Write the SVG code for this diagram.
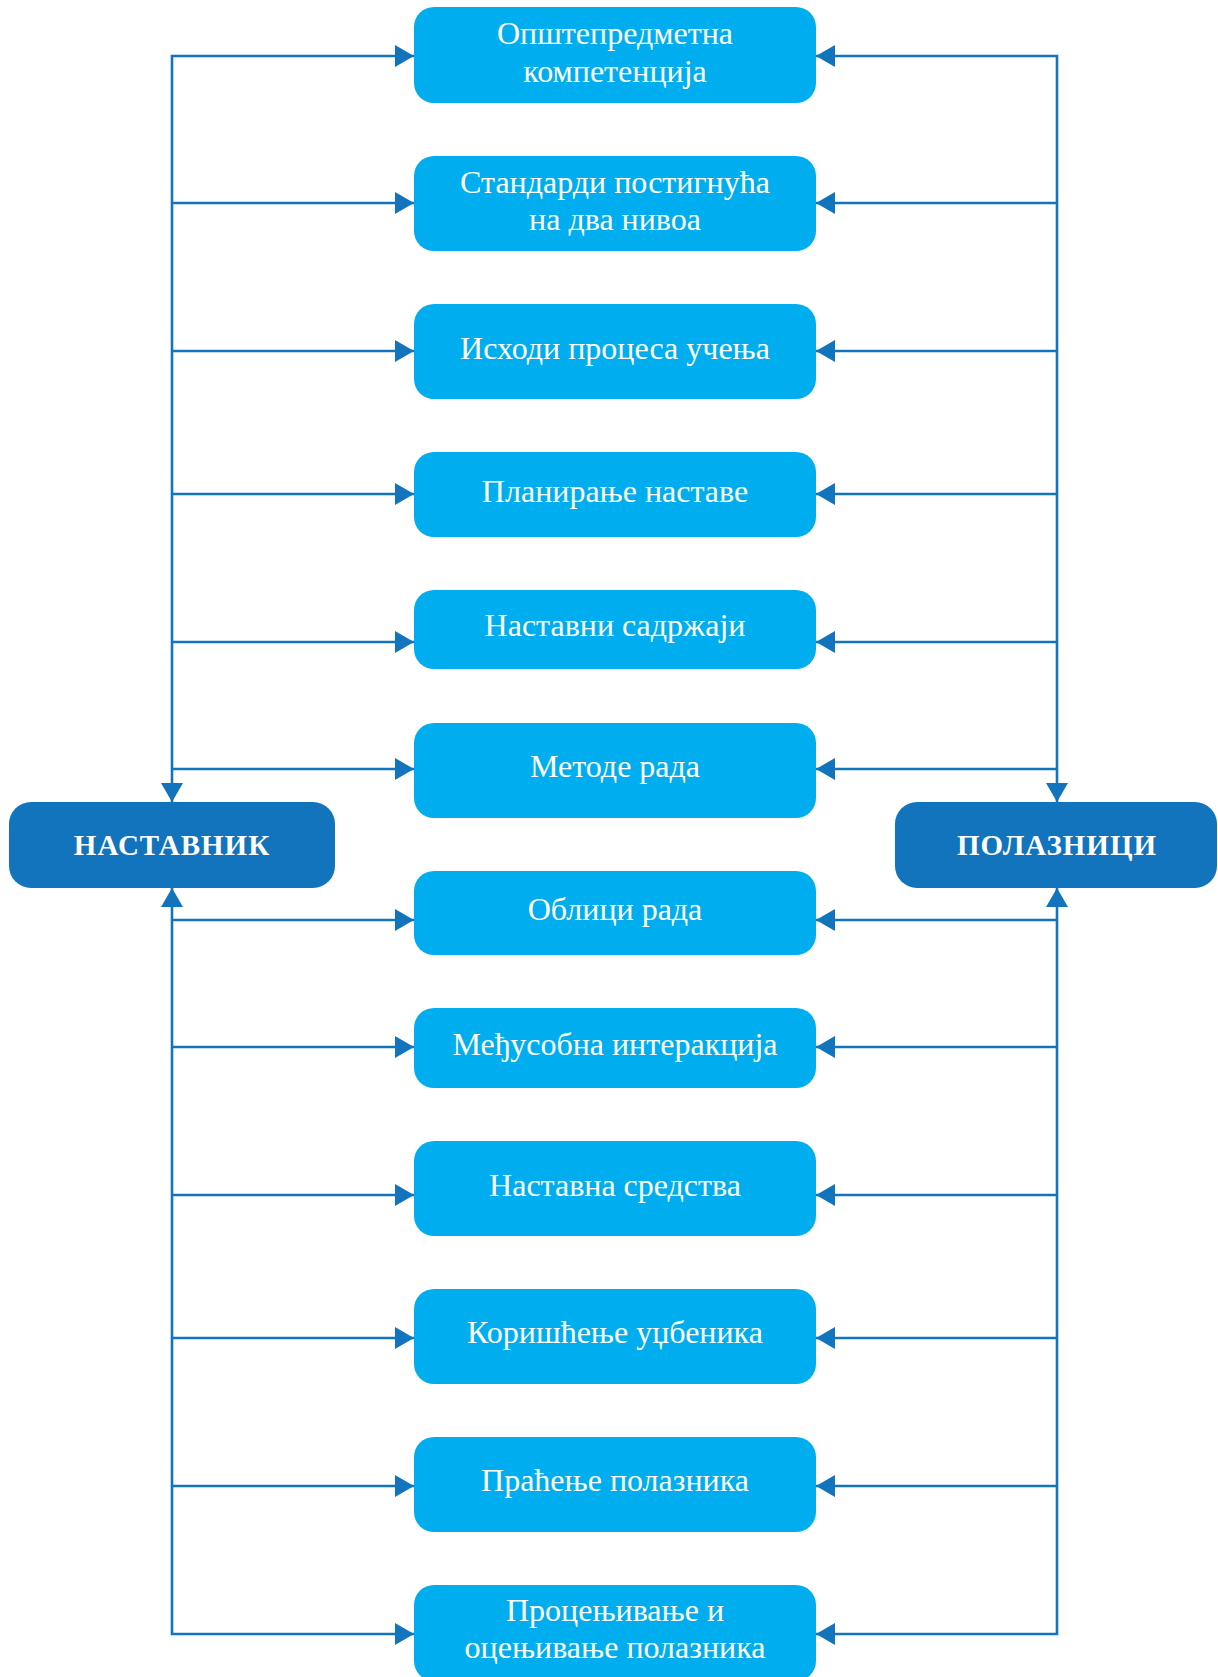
<svg xmlns="http://www.w3.org/2000/svg" width="1218" height="1677" viewBox="0 0 1218 1677">
<defs>
<marker id="ah" markerUnits="userSpaceOnUse" markerWidth="20" markerHeight="22" refX="19" refY="11" orient="auto-start-reverse" viewBox="0 0 20 22">
<path d="M0,0 L19,11 L0,22 z" fill="#1174bc"/>
</marker>
<style>
.c{fill:none;stroke:#1174bc;stroke-width:2.6;stroke-linejoin:miter}
.a{marker-end:url(#ah)}
.s{marker-start:url(#ah)}
.b{fill:#00aeef}
.d{fill:#1174bc}
.t{font-family:"Liberation Serif","Times New Roman",serif;font-size:32px;fill:#ffffff;text-anchor:middle}
.h{font-family:"Liberation Serif","Times New Roman",serif;font-size:29px;font-weight:bold;fill:#ffffff;text-anchor:middle;letter-spacing:1px}
</style>
</defs>
<rect width="1218" height="1677" fill="#ffffff"/>
<g id="connectors">
<path class="c s a" d="M172,802 V56 H414"/>
<path class="c a" d="M172,203 H414"/>
<path class="c a" d="M172,351 H414"/>
<path class="c a" d="M172,494 H414"/>
<path class="c a" d="M172,642 H414"/>
<path class="c a" d="M172,769 H414"/>
<path class="c a" d="M172,920 H414"/>
<path class="c a" d="M172,1047 H414"/>
<path class="c a" d="M172,1195 H414"/>
<path class="c a" d="M172,1338 H414"/>
<path class="c a" d="M172,1486 H414"/>
<path class="c s a" d="M172,888 V1634 H414"/>
<path class="c s a" d="M1057,802 V56 H816"/>
<path class="c a" d="M1057,203 H816"/>
<path class="c a" d="M1057,351 H816"/>
<path class="c a" d="M1057,494 H816"/>
<path class="c a" d="M1057,642 H816"/>
<path class="c a" d="M1057,769 H816"/>
<path class="c a" d="M1057,920 H816"/>
<path class="c a" d="M1057,1047 H816"/>
<path class="c a" d="M1057,1195 H816"/>
<path class="c a" d="M1057,1338 H816"/>
<path class="c a" d="M1057,1486 H816"/>
<path class="c s a" d="M1057,888 V1634 H816"/>
</g>
<g id="n1"><rect class="b" x="414" y="7" width="402" height="96" rx="20"/><text class="t" x="615" y="44">Општепредметна</text><text class="t" x="615" y="82">компетенција</text></g>
<g id="n2"><rect class="b" x="414" y="156" width="402" height="95" rx="20"/><text class="t" x="615" y="193">Стандарди постигнућа</text><text class="t" x="615" y="230">на два нивоа</text></g>
<g id="n3"><rect class="b" x="414" y="304" width="402" height="95" rx="20"/><text class="t" x="615" y="359">Исходи процеса учења</text></g>
<g id="n4"><rect class="b" x="414" y="452" width="402" height="85" rx="20"/><text class="t" x="615" y="502">Планирање наставе</text></g>
<g id="n5"><rect class="b" x="414" y="590" width="402" height="79" rx="20"/><text class="t" x="615" y="636">Наставни садржаји</text></g>
<g id="n6"><rect class="b" x="414" y="723" width="402" height="95" rx="20"/><text class="t" x="615" y="777">Методе рада</text></g>
<g id="n7"><rect class="b" x="414" y="871" width="402" height="84" rx="20"/><text class="t" x="615" y="920">Облици рада</text></g>
<g id="n8"><rect class="b" x="414" y="1008" width="402" height="80" rx="20"/><text class="t" x="615" y="1055">Међусобна интеракција</text></g>
<g id="n9"><rect class="b" x="414" y="1141" width="402" height="95" rx="20"/><text class="t" x="615" y="1196">Наставна средства</text></g>
<g id="n10"><rect class="b" x="414" y="1289" width="402" height="95" rx="20"/><text class="t" x="615" y="1343">Коришћење уџбеника</text></g>
<g id="n11"><rect class="b" x="414" y="1437" width="402" height="95" rx="20"/><text class="t" x="615" y="1491">Праћење полазника</text></g>
<g id="n12"><rect class="b" x="414" y="1585" width="402" height="96" rx="20"/><text class="t" x="615" y="1621">Процењивање и</text><text class="t" x="615" y="1658">оцењивање полазника</text></g>
<g id="nastavnik"><rect class="d" x="9" y="802" width="326" height="86" rx="22"/><text class="h" x="172" y="855">НАСТАВНИК</text></g>
<g id="polaznici"><rect class="d" x="895" y="802" width="322" height="86" rx="22"/><text class="h" x="1057" y="855">ПОЛАЗНИЦИ</text></g>
</svg>
